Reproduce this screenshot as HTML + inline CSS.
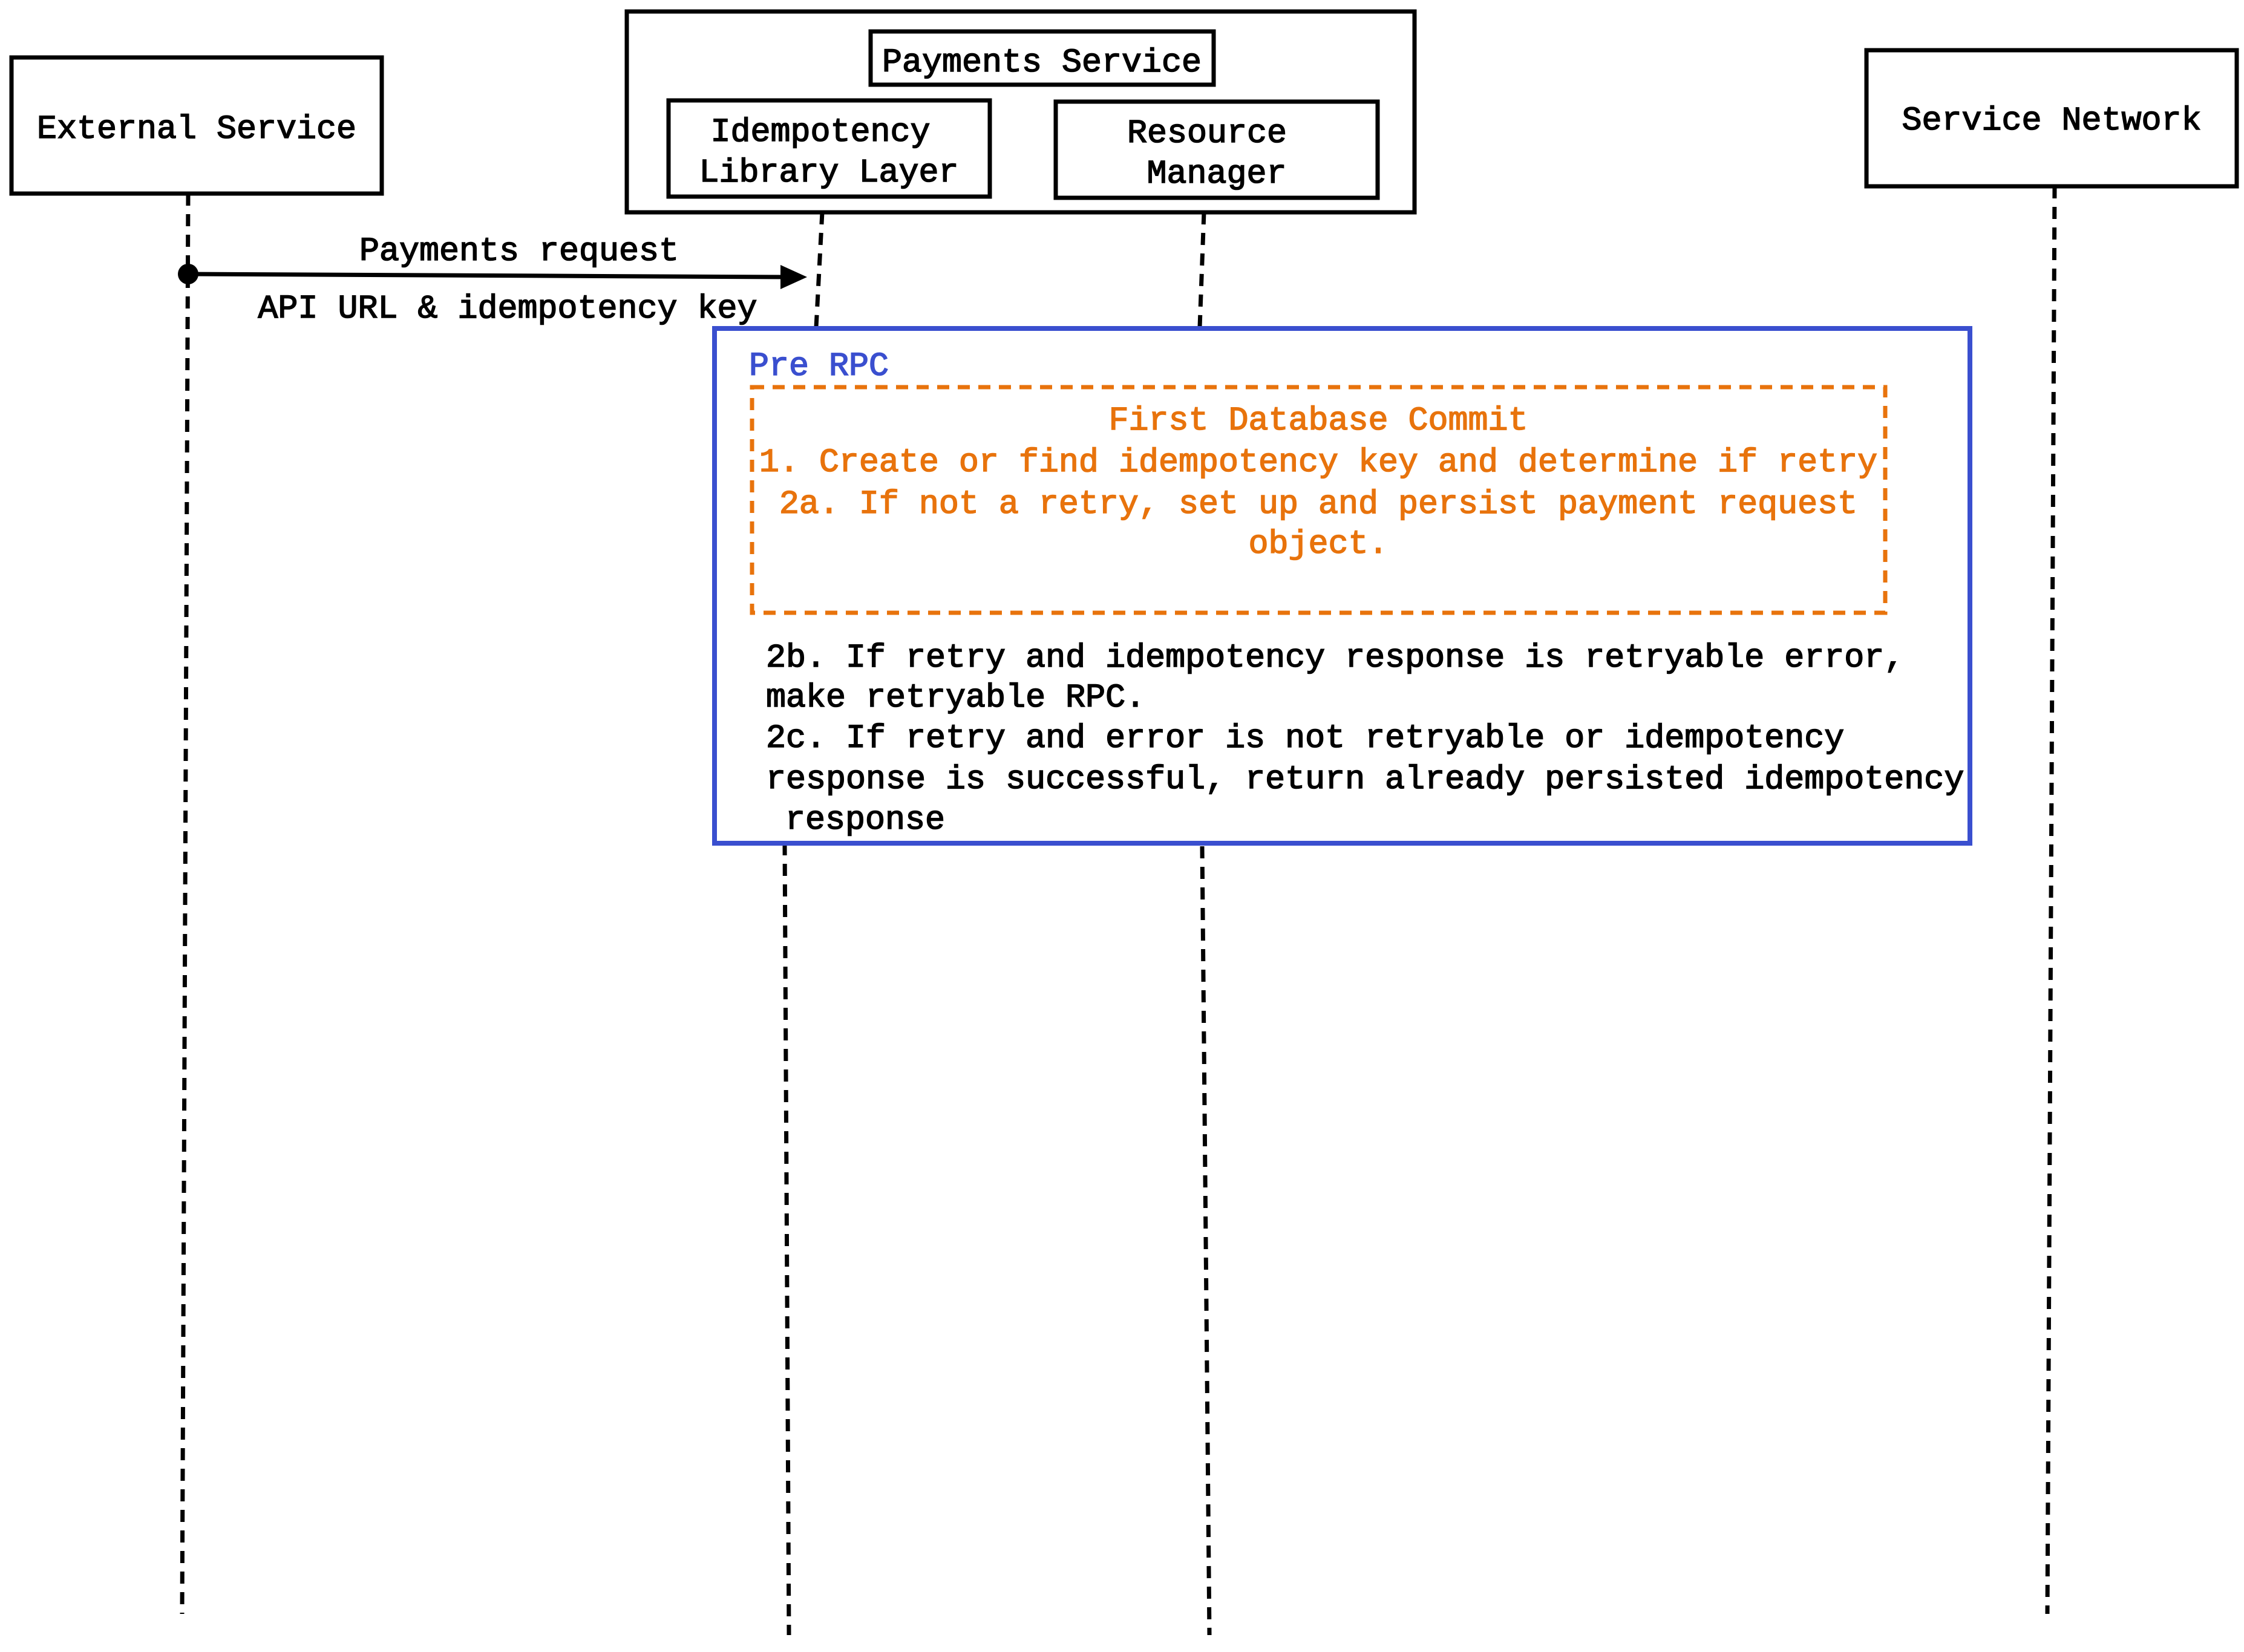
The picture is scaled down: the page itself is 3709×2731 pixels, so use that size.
<!DOCTYPE html>
<html><head><meta charset="utf-8"><style>
html,body{margin:0;padding:0;background:#fff;}
svg{display:block;}
text{font-family:"Liberation Mono",monospace;font-size:55px;stroke-width:1.6px;}
</style></head><body>
<svg width="3709" height="2731" viewBox="0 0 3709 2731" xmlns="http://www.w3.org/2000/svg">
<rect width="3709" height="2731" fill="#fff"/>
<g fill="none" stroke="#000" stroke-width="7">
<rect x="19" y="95" width="612" height="225"/>
<rect x="1036" y="19" width="1302" height="332"/>
<rect x="1439" y="52" width="567" height="88"/>
<rect x="1105" y="166" width="531" height="159"/>
<rect x="1745" y="168" width="532" height="159"/>
<rect x="3085" y="83" width="612" height="225"/>
</g>
<g fill="none" stroke="#000" stroke-width="7" stroke-dasharray="20,14">
<line x1="311" y1="320" x2="301" y2="2668"/>
<line x1="1359" y1="351" x2="1349" y2="541"/>
<line x1="1297" y1="1394" x2="1304" y2="2703"/>
<line x1="1990" y1="351" x2="1983" y2="541"/>
<line x1="1987" y1="1399" x2="1999" y2="2703"/>
<line x1="3396" y1="308" x2="3384" y2="2668"/>
</g>
<line x1="311" y1="453" x2="1300" y2="458" stroke="#000" stroke-width="7"/>
<circle cx="311" cy="453" r="17" fill="#000"/>
<polygon points="1334,458 1290,438 1290,478" fill="#000"/>
<rect x="1181" y="543" width="2075" height="851" fill="#fff" stroke="#3a4fcf" stroke-width="8"/>
<rect x="1243" y="640" width="1873" height="373" fill="none" stroke="#e8730c" stroke-width="7" stroke-dasharray="20,14"/>
<g fill="#000" stroke="#000">
<text x="325" y="228" text-anchor="middle">External Service</text>
<text x="1722" y="118" text-anchor="middle">Payments Service</text>
<text x="1356" y="233" text-anchor="middle">Idempotency</text>
<text x="1370" y="300" text-anchor="middle">Library Layer</text>
<text x="1995" y="235" text-anchor="middle">Resource</text>
<text x="2011" y="302" text-anchor="middle">Manager</text>
<text x="3391" y="214" text-anchor="middle">Service Network</text>
<text x="858" y="430" text-anchor="middle">Payments request</text>
<text x="839" y="525" text-anchor="middle">API URL &amp; idempotency key</text>
<text x="1266" y="1102">2b. If retry and idempotency response is retryable error,</text>
<text x="1266" y="1168">make retryable RPC.</text>
<text x="1266" y="1235">2c. If retry and error is not retryable or idempotency</text>
<text x="1266" y="1303">response is successful, return already persisted idempotency</text>
<text x="1298" y="1370">response</text>
</g>
<text x="1238" y="620" fill="#3a4fcf" stroke="#3a4fcf">Pre RPC</text>
<g fill="#e8730c" stroke="#e8730c" text-anchor="middle">
<text x="2179" y="710">First Database Commit</text>
<text x="2179" y="779">1. Create or find idempotency key and determine if retry</text>
<text x="2179" y="848">2a. If not a retry, set up and persist payment request</text>
<text x="2179" y="914">object.</text>
</g>
</svg>
</body></html>
